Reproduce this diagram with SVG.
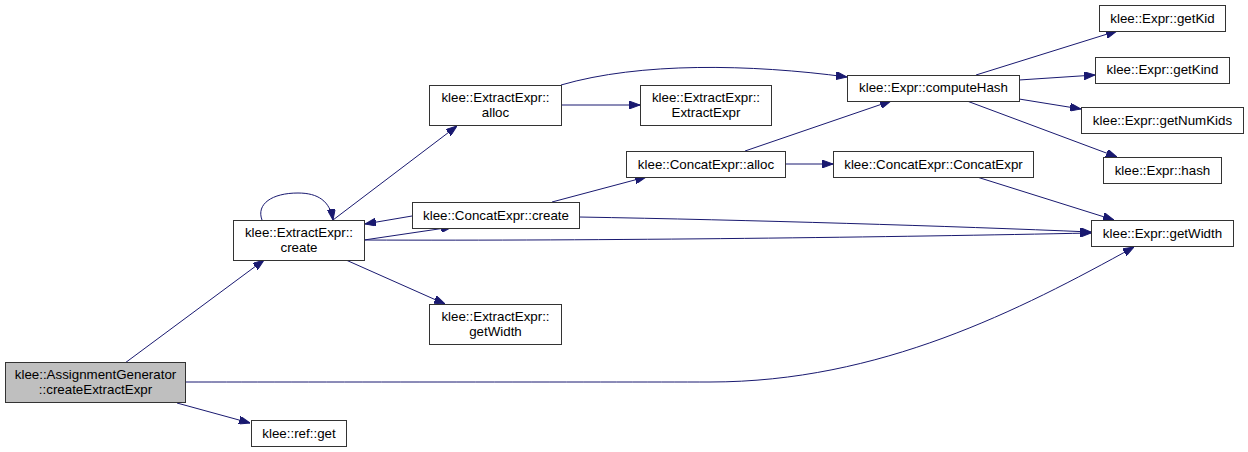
<svg xmlns="http://www.w3.org/2000/svg" width="1248" height="452" viewBox="0 0 1248 452">
<style>
.n rect{fill:#fff;stroke:#333;stroke-width:1}
.n.root rect{fill:#bfbfbf}
.n text{font-family:"Liberation Sans",Arial,sans-serif;font-size:13.33px;fill:#000;text-anchor:middle}
.e path{fill:none;stroke:#191970;stroke-width:1;marker-end:url(#ah)}
</style>
<defs>
<marker id="ah" viewBox="0 0 11 8" refX="11" refY="4" markerWidth="11" markerHeight="8" markerUnits="userSpaceOnUse" orient="auto">
<path d="M0,0 L11,4 L0,8 z" fill="#191970" stroke="#191970" stroke-width="1"/>
</marker>
</defs>
<rect width="1248" height="452" fill="#fff"/>
<g id="edges" class="e">
<path d="M125,363 L264,260"/>
<path d="M177,403 L250,423"/>
<path d="M185,382 C 320,382 600,382 710,382 C 880,382 1020,310 1134,247"/>
<path d="M262,220 C 256,204 272,193 298,193 C 318,193 330,201 333,220"/>
<path d="M333,220 L457,126"/>
<path d="M364,240 L452,227"/>
<path d="M412,216 L365,224"/>
<path d="M364,240 C 600,241 900,237 1091,233"/>
<path d="M346,260 L445,304"/>
<path d="M561,105 L640,105"/>
<path d="M561,85 C 640,62 750,64 847,77"/>
<path d="M552,202 L646,177"/>
<path d="M579,217 C 750,220 950,226 1091,232"/>
<path d="M745,151 L891,101"/>
<path d="M785,164 L833,164"/>
<path d="M977,177 L1114,220"/>
<path d="M976,75 L1117,31"/>
<path d="M1019,80 L1095,75"/>
<path d="M1019,99 L1081,109"/>
<path d="M967,101 L1117,157"/>
</g>
<g id="n_createExtractExpr" class="n root"><rect x="5.5" y="362.5" width="180" height="40"/><text x="95.5" y="379">klee::AssignmentGenerator</text><text x="95.5" y="394">::createExtractExpr</text></g>
<g id="n_ExtractExpr_create" class="n"><rect x="233.5" y="220.5" width="131" height="40"/><text x="299" y="237">klee::ExtractExpr::</text><text x="299" y="252">create</text></g>
<g id="n_ref_get" class="n"><rect x="251.5" y="420.5" width="95" height="26"/><text x="299" y="437.5">klee::ref::get</text></g>
<g id="n_ExtractExpr_alloc" class="n"><rect x="429.5" y="85.5" width="132" height="40"/><text x="495.5" y="102">klee::ExtractExpr::</text><text x="495.5" y="117">alloc</text></g>
<g id="n_ExtractExpr_ExtractExpr" class="n"><rect x="640.5" y="85.5" width="131" height="40"/><text x="706" y="102">klee::ExtractExpr::</text><text x="706" y="117">ExtractExpr</text></g>
<g id="n_ConcatExpr_alloc" class="n"><rect x="626.5" y="151.5" width="159" height="26"/><text x="706" y="168.5">klee::ConcatExpr::alloc</text></g>
<g id="n_ConcatExpr_create" class="n"><rect x="412.5" y="202.5" width="167" height="26"/><text x="496" y="219.5">klee::ConcatExpr::create</text></g>
<g id="n_ExtractExpr_getWidth" class="n"><rect x="429.5" y="304.5" width="132" height="40"/><text x="495.5" y="321">klee::ExtractExpr::</text><text x="495.5" y="336">getWidth</text></g>
<g id="n_Expr_computeHash" class="n"><rect x="847.5" y="75.5" width="172" height="26"/><text x="933.5" y="92">klee::Expr::computeHash</text></g>
<g id="n_Expr_getKid" class="n"><rect x="1099.5" y="5.5" width="126" height="26"/><text x="1162.5" y="22.5">klee::Expr::getKid</text></g>
<g id="n_Expr_getKind" class="n"><rect x="1095.5" y="57.5" width="134" height="26"/><text x="1162.5" y="74">klee::Expr::getKind</text></g>
<g id="n_Expr_getNumKids" class="n"><rect x="1081.5" y="107.5" width="162" height="26"/><text x="1162.5" y="124.5">klee::Expr::getNumKids</text></g>
<g id="n_Expr_hash" class="n"><rect x="1103.5" y="157.5" width="118" height="26"/><text x="1162.5" y="174.5">klee::Expr::hash</text></g>
<g id="n_ConcatExpr_ConcatExpr" class="n"><rect x="833.5" y="151.5" width="200" height="26"/><text x="933.5" y="168.5">klee::ConcatExpr::ConcatExpr</text></g>
<g id="n_Expr_getWidth" class="n"><rect x="1091.5" y="220.5" width="142" height="26"/><text x="1162.5" y="237.5">klee::Expr::getWidth</text></g>
</svg>
